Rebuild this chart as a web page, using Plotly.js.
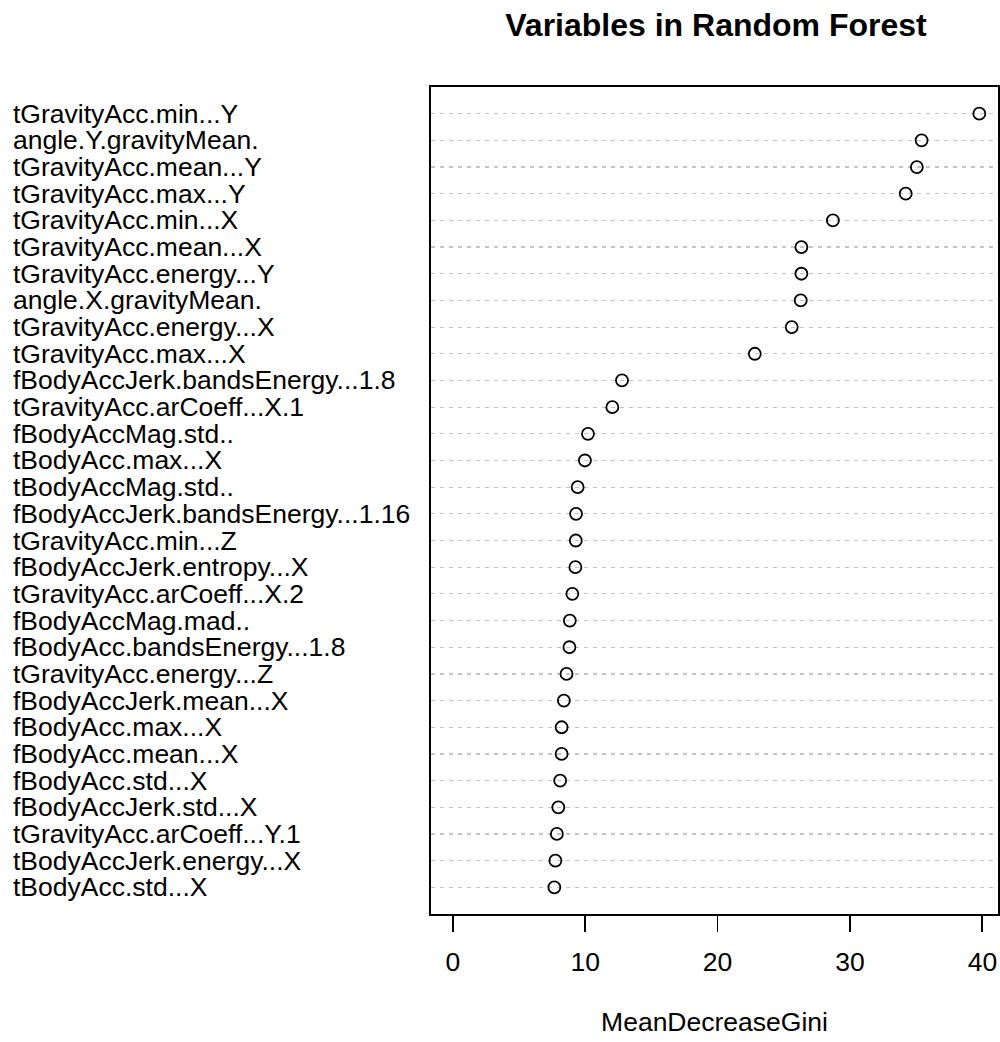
<!DOCTYPE html>
<html>
<head>
<meta charset="utf-8">
<script src="https://cdn.plot.ly/plotly-3.0.1.min.js"></script>
<style>html,body{margin:0;padding:0;background:#fff;}</style>
</head>
<body>
<div id="chart" style="width:1000px;height:1042px;"></div>
<script>
const variables = [
  "tGravityAcc.min...Y",
  "angle.Y.gravityMean.",
  "tGravityAcc.mean...Y",
  "tGravityAcc.max...Y",
  "tGravityAcc.min...X",
  "tGravityAcc.mean...X",
  "tGravityAcc.energy...Y",
  "angle.X.gravityMean.",
  "tGravityAcc.energy...X",
  "tGravityAcc.max...X",
  "fBodyAccJerk.bandsEnergy...1.8",
  "tGravityAcc.arCoeff...X.1",
  "fBodyAccMag.std..",
  "tBodyAcc.max...X",
  "tBodyAccMag.std..",
  "fBodyAccJerk.bandsEnergy...1.16",
  "tGravityAcc.min...Z",
  "fBodyAccJerk.entropy...X",
  "tGravityAcc.arCoeff...X.2",
  "fBodyAccMag.mad..",
  "fBodyAcc.bandsEnergy...1.8",
  "tGravityAcc.energy...Z",
  "fBodyAccJerk.mean...X",
  "fBodyAcc.max...X",
  "fBodyAcc.mean...X",
  "fBodyAcc.std...X",
  "fBodyAccJerk.std...X",
  "tGravityAcc.arCoeff...Y.1",
  "tBodyAccJerk.energy...X",
  "tBodyAcc.std...X"
];
const meanDecreaseGini = [
  39.77, 35.41, 35.05, 34.21, 28.71, 26.33, 26.33, 26.28, 25.60, 22.81,
  12.78, 12.05, 10.21, 9.98, 9.43, 9.31, 9.29, 9.26, 9.03, 8.84,
  8.81, 8.59, 8.39, 8.22, 8.22, 8.11, 7.97, 7.86, 7.75, 7.67
];
const xTicks = [0, 10, 20, 30, 40];
const chartTitle = "Variables in Random Forest";
const xTitle = "MeanDecreaseGini";

const FONT = "Liberation Sans, Arial, Helvetica, sans-serif";

const trace = {
  type: "scatter",
  mode: "markers",
  x: meanDecreaseGini,
  y: variables,
  marker: {symbol: "circle-open", size: 12, color: "#000", line: {color: "#000", width: 1.8}},
  hoverinfo: "x+y",
  showlegend: false
};

const labelAnnotations = variables.map(v => ({
  xref: "paper", yref: "y",
  x: -0.741, y: v,
  text: v, showarrow: false,
  xanchor: "left", yanchor: "middle",
  font: {family: FONT, size: 26.5, color: "#000"}
}));

const layout = {
  width: 1000, height: 1042,
  margin: {l: 431, r: 2, t: 87, b: 128, pad: 0},
  paper_bgcolor: "#fff", plot_bgcolor: "#fff",
  font: {family: FONT, size: 26.5, color: "#000"},
  title: {
    text: "<b>" + chartTitle + "</b>",
    font: {family: FONT, size: 32, color: "#000"},
    x: 0.716, xanchor: "center", xref: "container",
    y: 0.976, yanchor: "middle", yref: "container"
  },
  xaxis: {
    range: [-1.646, 41.18],
    tickvals: xTicks,
    ticktext: xTicks.map(String),
    ticks: "outside", ticklen: 16, tickwidth: 1.8, tickcolor: "#000",
    tickfont: {family: FONT, size: 26.5, color: "#000"},
    ticklabelstandoff: 7,
    showgrid: false, zeroline: false,
    showline: true, linecolor: "#000", linewidth: 2, mirror: true,
    title: {text: xTitle, font: {family: FONT, size: 26.5, color: "#000"}, standoff: 37}
  },
  yaxis: {
    type: "category",
    categoryorder: "array", categoryarray: variables,
    range: [30, -1],
    showticklabels: false, ticks: "",
    showgrid: true, gridcolor: "#c4c4c4", gridwidth: 1.2, griddash: "4px,5px",
    zeroline: false,
    showline: true, linecolor: "#000", linewidth: 2, mirror: true
  },
  annotations: labelAnnotations
};

Plotly.newPlot("chart", [trace], layout, {displayModeBar: false, staticPlot: true});
</script>
</body>
</html>
